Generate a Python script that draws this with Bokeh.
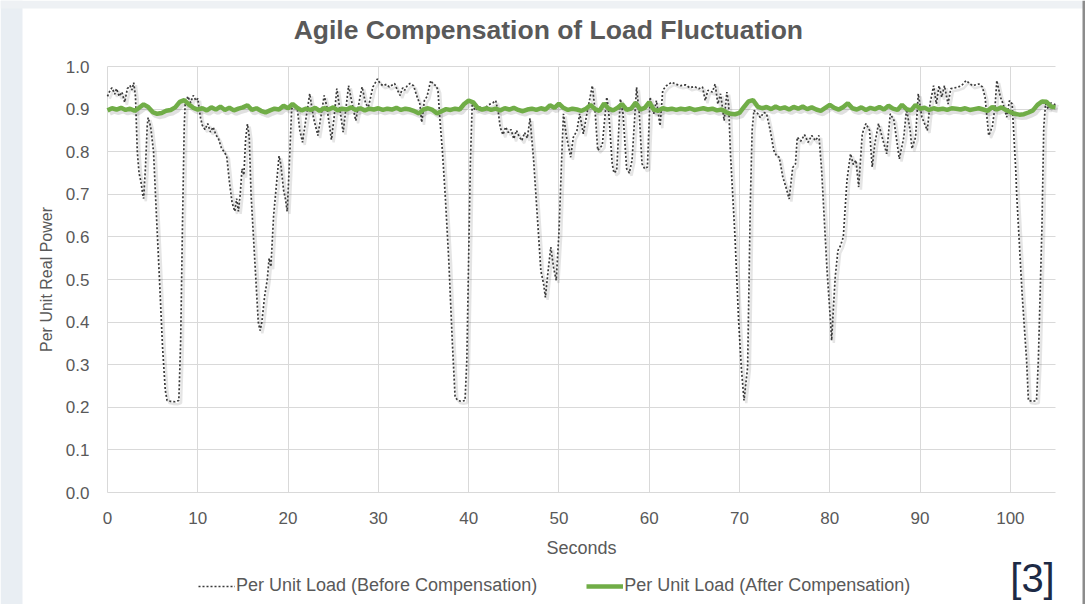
from bokeh.plotting import figure
from bokeh.models import (ColumnDataSource, Legend, LegendItem, Label, Range1d,
                          FixedTicker, NumeralTickFormatter, BoxAnnotation)
from bokeh.transform import dodge
from bokeh.embed import file_html
from bokeh.resources import INLINE

TITLE = "Agile Compensation of  Load Fluctuation"
X_LABEL = "Seconds"
Y_LABEL = "Per Unit Real Power"
NAME_BEFORE = "Per Unit Load (Before Compensation)"
NAME_AFTER = "Per Unit Load (After Compensation)"
REF_TAG = "[3]"
X_TICKS = [0, 10, 20, 30, 40, 50, 60, 70, 80, 90, 100]
Y_TICKS = [0.0, 0.1, 0.2, 0.3, 0.4, 0.5, 0.6, 0.7, 0.8, 0.9, 1.0]
X_MAX = 105
Y_MAX = 1.0

before_t = [
    0.0, 0.3, 0.5, 0.8, 1.0, 1.3, 1.6, 1.9, 2.2, 2.5, 2.7, 2.9, 3.1, 3.3, 3.5, 3.7, 3.9, 4.0,
    4.2, 4.4, 4.5, 4.7, 4.8, 5.1, 5.4, 5.8, 6.1, 6.4, 6.6, 7.0, 7.5, 7.9, 8.1, 8.3, 8.5, 8.6,
    8.9, 9.2, 9.5, 9.8, 10.0, 10.3, 10.5, 10.8, 11.1, 11.4, 11.7, 12.0, 12.3, 12.6, 12.9,
    13.2, 13.5, 13.8, 14.1, 14.3, 14.5, 14.7, 14.9, 15.1, 15.3, 15.5, 15.7, 15.9, 16.3, 16.7,
    16.9, 17.1, 17.4, 17.7, 17.9, 18.1, 18.4, 18.7, 19.0, 19.2, 19.5, 19.7, 19.9, 20.1, 20.4,
    20.6, 21.0, 21.3, 21.6, 22.0, 22.4, 22.8, 23.3, 23.7, 24.0, 24.3, 24.8, 25.1, 25.4, 25.7,
    26.1, 26.4, 26.7, 27.1, 27.5, 27.9, 28.2, 28.6, 28.9, 29.4, 29.9, 30.2, 30.5, 30.9, 31.2,
    31.5, 31.8, 32.1, 32.4, 32.7, 32.9, 33.2, 33.5, 33.9, 34.3, 34.6, 34.8, 35.1, 35.4, 35.8,
    36.1, 36.4, 36.6, 36.8, 37.1, 37.4, 37.8, 38.2, 38.5, 38.8, 39.2, 39.6, 39.8, 40.0, 40.2,
    40.4, 40.7, 41.2, 41.7, 42.2, 42.7, 43.0, 43.3, 43.5, 43.8, 44.1, 44.4, 44.7, 45.0, 45.3,
    45.6, 45.9, 46.2, 46.5, 46.8, 47.2, 47.6, 48.0, 48.3, 48.5, 48.8, 49.1, 49.4, 49.7, 50.0,
    50.3, 50.5, 50.8, 51.3, 51.6, 52.0, 52.3, 52.7, 53.1, 53.7, 54.0, 54.3, 54.8, 55.3, 55.5,
    55.9, 56.1, 56.4, 56.8, 57.1, 57.5, 57.8, 58.1, 58.6, 58.9, 59.2, 59.5, 59.8, 60.1, 60.5,
    60.8, 61.2, 61.5, 61.9, 62.5, 63.0, 63.5, 64.0, 64.5, 65.0, 65.5, 65.9, 66.2, 66.5, 67.0,
    67.3, 67.6, 67.9, 68.1, 68.3, 68.6, 68.8, 69.0, 69.5, 69.9, 70.2, 70.5, 70.9, 71.2, 71.4,
    71.6, 72.0, 72.3, 72.7, 73.0, 73.4, 73.8, 74.1, 74.4, 74.8, 75.1, 75.5, 75.9, 76.2, 76.4,
    76.8, 77.2, 77.6, 78.0, 78.4, 78.8, 79.1, 79.7, 80.1, 80.2, 80.6, 80.9, 81.2, 81.5, 81.9,
    82.3, 82.6, 82.9, 83.2, 83.6, 84.0, 84.4, 84.7, 85.0, 85.4, 85.8, 86.3, 86.7, 87.1, 87.7,
    88.2, 88.5, 88.9, 89.1, 89.5, 89.8, 90.2, 90.8, 91.1, 91.5, 91.8, 92.1, 92.4, 92.7, 93.1,
    93.4, 94.1, 94.6, 95.1, 95.8, 96.5, 96.9, 97.2, 97.6, 98.0, 98.3, 98.5, 98.9, 99.2, 99.6,
    99.9, 100.2, 100.6, 100.7, 101.3, 101.8, 102.0, 102.5, 102.9, 103.1, 103.5, 103.7, 103.9,
    104.2, 104.5, 104.8, 105.0,
]
before_v = [
    0.930, 0.945, 0.950, 0.935, 0.948, 0.930, 0.940, 0.916, 0.948, 0.955, 0.945, 0.962, 0.930, 0.800, 0.749, 0.730, 0.700, 0.690,
    0.760, 0.860, 0.880, 0.865, 0.855, 0.800, 0.660, 0.480, 0.340, 0.240, 0.216, 0.214, 0.213, 0.216, 0.350, 0.620, 0.860, 0.910,
    0.930, 0.915, 0.932, 0.920, 0.925, 0.880, 0.862, 0.852, 0.866, 0.846, 0.858, 0.840, 0.830, 0.810, 0.800,
    0.790, 0.730, 0.680, 0.660, 0.690, 0.660, 0.700, 0.760, 0.745, 0.830, 0.865, 0.835, 0.700, 0.550, 0.400,
    0.380, 0.400, 0.460, 0.500, 0.550, 0.530, 0.650, 0.720, 0.790, 0.770, 0.710, 0.690, 0.660, 0.750, 0.900,
    0.910, 0.905, 0.850, 0.822, 0.880, 0.936, 0.881, 0.838, 0.890, 0.932, 0.905, 0.828, 0.880, 0.948, 0.905,
    0.846, 0.900, 0.955, 0.912, 0.873, 0.920, 0.952, 0.912, 0.905, 0.952, 0.971, 0.960, 0.955, 0.958, 0.952,
    0.956, 0.960, 0.945, 0.932, 0.950, 0.944, 0.955, 0.960, 0.955, 0.928, 0.912, 0.869, 0.920, 0.930, 0.967,
    0.958, 0.955, 0.944, 0.881, 0.800, 0.700, 0.545, 0.350, 0.224, 0.216, 0.214, 0.216, 0.310, 0.550, 0.780,
    0.913, 0.897, 0.905, 0.900, 0.910, 0.915, 0.920, 0.890, 0.857, 0.840, 0.858, 0.845, 0.852, 0.830, 0.850,
    0.835, 0.826, 0.845, 0.832, 0.878, 0.780, 0.650, 0.520, 0.490, 0.458, 0.520, 0.576, 0.529, 0.498, 0.608,
    0.780, 0.889, 0.840, 0.787, 0.834, 0.850, 0.889, 0.842, 0.889, 0.955, 0.897, 0.803, 0.815, 0.928, 0.897,
    0.772, 0.750, 0.756, 0.924, 0.889, 0.760, 0.750, 0.780, 0.951, 0.889, 0.772, 0.760, 0.764, 0.928, 0.889,
    0.920, 0.861, 0.944, 0.955, 0.963, 0.958, 0.955, 0.957, 0.950, 0.953, 0.948, 0.952, 0.920, 0.944, 0.940,
    0.959, 0.912, 0.936, 0.905, 0.873, 0.940, 0.910, 0.795, 0.600, 0.404, 0.294, 0.216, 0.294, 0.678, 0.850,
    0.897, 0.890, 0.880, 0.892, 0.889, 0.850, 0.803, 0.790, 0.787, 0.740, 0.720, 0.689, 0.763, 0.771, 0.834,
    0.825, 0.840, 0.822, 0.838, 0.826, 0.838, 0.756, 0.520, 0.396, 0.357, 0.505, 0.568, 0.580, 0.600, 0.732,
    0.795, 0.770, 0.780, 0.717, 0.842, 0.866, 0.850, 0.764, 0.820, 0.866, 0.834, 0.795, 0.889, 0.874, 0.783,
    0.834, 0.900, 0.850, 0.807, 0.834, 0.936, 0.881, 0.850, 0.912, 0.955, 0.912, 0.955, 0.928, 0.955, 0.912,
    0.948, 0.951, 0.955, 0.967, 0.955, 0.959, 0.952, 0.928, 0.838, 0.858, 0.905, 0.967, 0.928, 0.912, 0.881,
    0.920, 0.912, 0.756, 0.700, 0.467, 0.310, 0.216, 0.214, 0.216, 0.310, 0.623, 0.857, 0.913,
    0.900, 0.915, 0.905, 0.916,
]

after_t = [
    0, 0.5, 1, 1.5, 2, 2.5, 3, 3.5, 4, 4.5,
    5, 5.5, 6, 6.5, 7, 7.5, 8, 8.5, 9, 9.5,
    10, 10.5, 11, 11.5, 12, 12.5, 13, 13.5, 14, 14.5,
    15, 15.5, 16, 16.5, 17, 17.5, 18, 18.5, 19, 19.5,
    20, 20.5, 21, 21.5, 22, 22.5, 23, 23.5, 24, 24.5,
    25, 25.5, 26, 26.5, 27, 27.5, 28, 28.5, 29, 29.5,
    30, 30.5, 31, 31.5, 32, 32.5, 33, 33.5, 34, 34.5,
    35, 35.5, 36, 36.5, 37, 37.5, 38, 38.5, 39, 39.5,
    40, 40.5, 41, 41.5, 42, 42.5, 43, 43.5, 44, 44.5,
    45, 45.5, 46, 46.5, 47, 47.5, 48, 48.5, 49, 49.5,
    50, 50.5, 51, 51.5, 52, 52.5, 53, 53.5, 54, 54.5,
    55, 55.5, 56, 56.5, 57, 57.5, 58, 58.5, 59, 59.5,
    60, 60.5, 61, 61.5, 62, 62.5, 63, 63.5, 64, 64.5,
    65, 65.5, 66, 66.5, 67, 67.5, 68, 68.5, 69, 69.5,
    70, 70.5, 71, 71.5, 72, 72.5, 73, 73.5, 74, 74.5,
    75, 75.5, 76, 76.5, 77, 77.5, 78, 78.5, 79, 79.5,
    80, 80.5, 81, 81.5, 82, 82.5, 83, 83.5, 84, 84.5,
    85, 85.5, 86, 86.5, 87, 87.5, 88, 88.5, 89, 89.5,
    90, 90.5, 91, 91.5, 92, 92.5, 93, 93.5, 94, 94.5,
    95, 95.5, 96, 96.5, 97, 97.5, 98, 98.5, 99, 99.5,
    100, 100.5, 101, 101.5, 102, 102.5, 103, 103.5, 104, 104.5,
    105,
]
after_v = [
    0.897, 0.902, 0.899, 0.903, 0.898, 0.901, 0.896, 0.903, 0.911, 0.905,
    0.893, 0.889, 0.891, 0.896, 0.898, 0.904, 0.917, 0.921, 0.911, 0.903,
    0.899, 0.902, 0.897, 0.904, 0.899, 0.906, 0.898, 0.903, 0.897, 0.901,
    0.904, 0.909, 0.898, 0.902, 0.896, 0.892, 0.897, 0.901, 0.899, 0.908,
    0.902, 0.912, 0.903, 0.897, 0.901, 0.898, 0.903, 0.896, 0.902, 0.899,
    0.904, 0.897, 0.901, 0.899, 0.904, 0.898, 0.902, 0.897, 0.901, 0.899,
    0.902, 0.898, 0.901, 0.899, 0.903, 0.898, 0.901, 0.899, 0.895, 0.890,
    0.899, 0.902, 0.898, 0.890, 0.895, 0.900, 0.898, 0.901, 0.899, 0.912,
    0.920, 0.916, 0.903, 0.899, 0.902, 0.898, 0.901, 0.897, 0.902, 0.899,
    0.903, 0.898, 0.895, 0.899, 0.901, 0.898, 0.902, 0.899, 0.909, 0.903,
    0.913, 0.903, 0.898, 0.901, 0.899, 0.896, 0.901, 0.910, 0.900, 0.896,
    0.913, 0.901, 0.897, 0.903, 0.912, 0.898, 0.901, 0.915, 0.899, 0.903,
    0.916, 0.899, 0.896, 0.902, 0.899, 0.901, 0.898, 0.901, 0.899, 0.902,
    0.898, 0.900, 0.902, 0.899, 0.901, 0.897, 0.899, 0.893, 0.889, 0.888,
    0.891, 0.905, 0.918, 0.921, 0.906, 0.902, 0.905, 0.900, 0.906, 0.901,
    0.904, 0.899, 0.905, 0.901, 0.906, 0.900, 0.904, 0.899, 0.896, 0.903,
    0.910, 0.903, 0.899, 0.905, 0.914, 0.902, 0.899, 0.904, 0.898, 0.903,
    0.900, 0.905, 0.899, 0.908, 0.901, 0.898, 0.910, 0.900, 0.897, 0.910,
    0.901, 0.903, 0.898, 0.902, 0.899, 0.901, 0.898, 0.902, 0.901, 0.899,
    0.902, 0.898, 0.900, 0.902, 0.899, 0.896, 0.905, 0.899, 0.904, 0.898,
    0.893, 0.889, 0.887, 0.888, 0.892, 0.897, 0.910, 0.918, 0.917, 0.906,
    0.904,
]

TEXT_GREY = "#595959"
GRID_GREY = "#d9d9d9"
BEFORE_COLOR = "#3a3a3a"
AFTER_COLOR = "#70ad47"
FONT = "Liberation Sans"

# canvas geometry (pixels): plot area spans x 107..1055, y 66..492
W, H = 1085, 604
FL, FR, FT, FB = 107, 1055, 66, 492
kx = (FR - FL) / X_MAX
ky = (FB - FT) / Y_MAX
x_range = Range1d(-FL / kx, (W - FL) / kx)
y_range = Range1d(-(H - FB) / ky, FB / ky)


def px_x(px):
    return (px - FL) / kx


def px_y(py):
    return (FB - py) / ky


src_before = ColumnDataSource(dict(t=before_t, v=before_v))
src_after = ColumnDataSource(dict(t=after_t, v=after_v))

p = figure(width=W, height=H, x_range=x_range, y_range=y_range,
           output_backend="svg", toolbar_location=None,
           min_border_left=0, min_border_right=0, min_border_top=0, min_border_bottom=0)
p.outline_line_color = None
p.background_fill_color = "white"
p.border_fill_color = "white"

# page-like backdrop strips (left / top light, right dark edge)
p.add_layout(BoxAnnotation(left=x_range.start, right=px_x(22), fill_color="#e9eef3",
                           fill_alpha=1, line_color=None, level="underlay"))
p.add_layout(BoxAnnotation(bottom=px_y(8), top=y_range.end, fill_color="#eef1f4",
                           fill_alpha=1, line_color=None, level="underlay"))
p.add_layout(BoxAnnotation(left=px_x(1082), right=x_range.end, fill_color="#8c8c8c",
                           fill_alpha=1, line_color=None, level="underlay"))

# grid
p.xgrid.ticker = FixedTicker(ticks=X_TICKS)
p.ygrid.ticker = FixedTicker(ticks=Y_TICKS)
p.xgrid.cross_bounds = (0, Y_MAX)
p.ygrid.cross_bounds = (0, X_MAX)
for g in (p.xgrid, p.ygrid):
    g.grid_line_color = GRID_GREY
    g.grid_line_width = 1

# axes
p.xaxis.ticker = FixedTicker(ticks=X_TICKS)
p.yaxis.ticker = FixedTicker(ticks=Y_TICKS)
p.yaxis.formatter = NumeralTickFormatter(format="0.0")
p.xaxis.fixed_location = 0
p.yaxis.fixed_location = 0
p.xaxis.bounds = (0, X_MAX)
p.yaxis.bounds = (0, Y_MAX)
for ax in (p.xaxis[0], p.yaxis[0]):
    ax.axis_line_color = None
    ax.major_tick_line_color = None
    ax.minor_tick_line_color = None
    ax.major_tick_out = 0
    ax.major_tick_in = 0
    ax.major_label_text_font = FONT
    ax.major_label_text_font_size = "17px"
    ax.major_label_text_color = TEXT_GREY
    ax.axis_label_text_font = FONT
    ax.axis_label_text_font_style = "normal"
    ax.axis_label_text_color = TEXT_GREY
p.xaxis.axis_label = X_LABEL
p.yaxis.axis_label = Y_LABEL
p.xaxis.axis_label_text_font_size = "18px"
p.yaxis.axis_label_text_font_size = "16px"
p.yaxis.major_label_standoff = 18
p.yaxis.axis_label_standoff = 8
p.xaxis.major_label_standoff = 19
p.xaxis.axis_label_standoff = 11

# soft shadows
p.line(x=dodge("t", 0.25, range=p.x_range), y=dodge("v", -0.006, range=p.y_range),
       source=src_before, line_color="#000000", line_alpha=0.10, line_width=2.5)
p.line(x=dodge("t", 0.25, range=p.x_range), y=dodge("v", -0.007, range=p.y_range),
       source=src_after, line_color="#000000", line_alpha=0.12, line_width=5)

r_before = p.line("t", "v", source=src_before, line_color=BEFORE_COLOR,
                  line_width=1.7, line_dash="2 2")
r_after = p.line("t", "v", source=src_after, line_color=AFTER_COLOR, line_width=4.5)

legend = Legend(items=[LegendItem(label=NAME_BEFORE, renderers=[r_before]),
                       LegendItem(label=NAME_AFTER, renderers=[r_after])],
                orientation="horizontal", location=(198, 8),
                padding=0, margin=0, spacing=49, glyph_width=37, glyph_height=20,
                label_standoff=1, label_text_font=FONT, label_text_font_size="18px",
                label_text_color=TEXT_GREY, background_fill_alpha=0,
                border_line_color=None)
p.add_layout(legend)

p.add_layout(Label(x=px_x(551.5), y=px_y(29), text=TITLE,
                   text_align="center", text_baseline="middle",
                   text_font=FONT, text_font_style="bold", text_font_size="26.5px",
                   text_color=TEXT_GREY))
p.add_layout(Label(x=px_x(1032), y=px_y(577), text=REF_TAG,
                   text_align="center", text_baseline="middle",
                   text_font=FONT, text_font_size="40px", text_color="#1d2a45"))

open("out.html", "w").write(file_html(p, INLINE))
